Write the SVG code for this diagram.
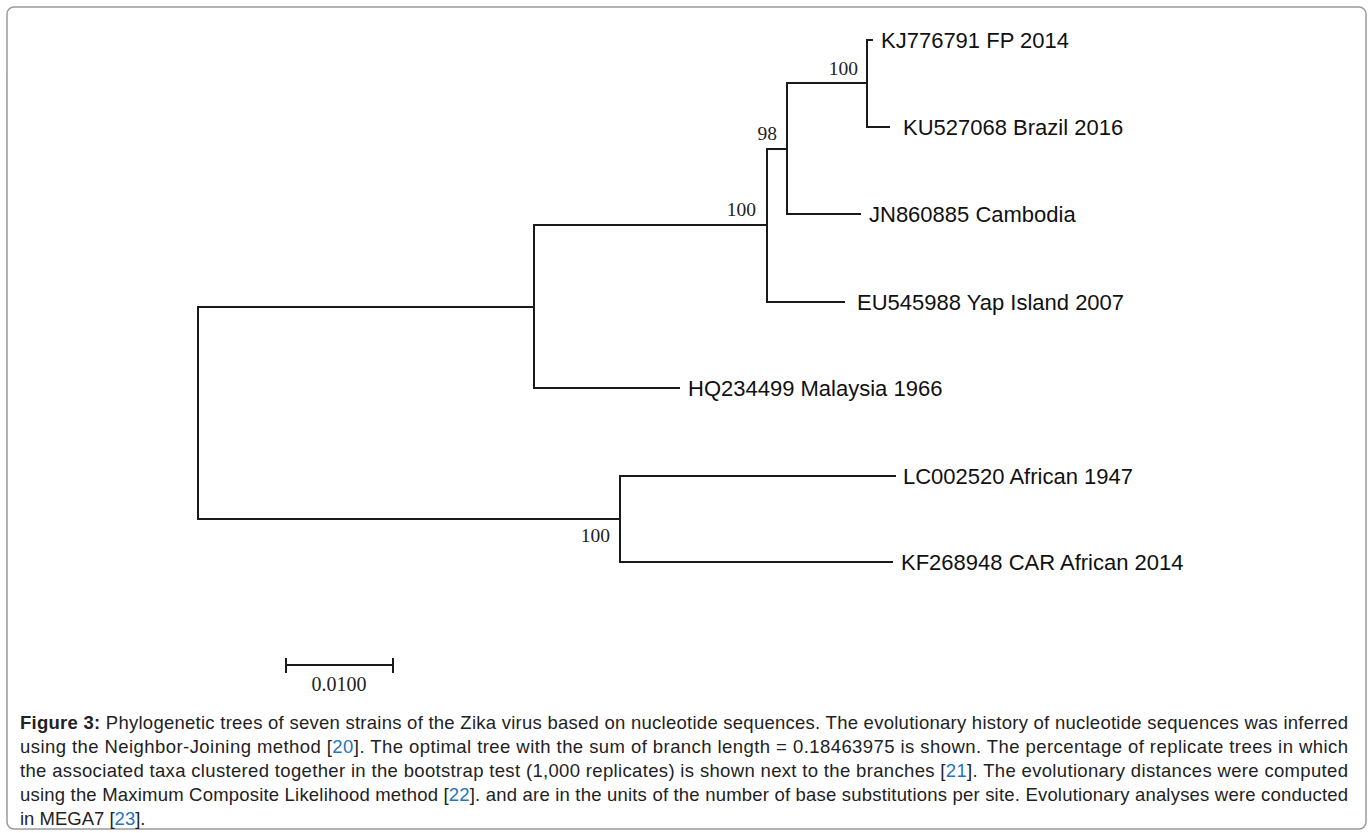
<svg xmlns="http://www.w3.org/2000/svg" width="1370" height="833" viewBox="0 0 1370 833">
<style>
.br{stroke:#1a1a1a;stroke-width:2;fill:none;stroke-linecap:square}
.lab{font-family:"Liberation Sans",Arial,sans-serif;font-size:22px;fill:#111}
.bs{font-family:"Liberation Serif","Times New Roman",serif;font-size:19.5px;fill:#222;text-anchor:end}
.cap{font-family:"Liberation Sans",Arial,sans-serif;font-size:18.5px;fill:#222}
.ref{fill:#1f74c4}
</style>
<rect x="7" y="7" width="1359" height="822" rx="7" fill="#fff" stroke="#9a9a9a" stroke-width="1.5"/>
<g id="connectors">
<path class="br" d="M198,307 V519"/>
<path class="br" d="M198,307 H534"/>
<path class="br" d="M198,519 H620"/>
<path class="br" d="M534,225 V388"/>
<path class="br" d="M534,225 H767"/>
<path class="br" d="M534,388 H679"/>
<path class="br" d="M767,149 V302"/>
<path class="br" d="M767,149 H787"/>
<path class="br" d="M767,302 H844"/>
<path class="br" d="M787,83 V214"/>
<path class="br" d="M787,83 H867"/>
<path class="br" d="M787,214 H860"/>
<path class="br" d="M867,40 V127"/>
<path class="br" d="M867,40 H872"/>
<path class="br" d="M867,127 H889"/>
<path class="br" d="M620,476 V562"/>
<path class="br" d="M620,476 H895"/>
<path class="br" d="M620,562 H892"/>
</g>
<g id="leaf-KJ776791"><text class="lab" x="881" y="48">KJ776791 FP 2014</text></g>
<g id="leaf-KU527068"><text class="lab" x="903" y="135">KU527068 Brazil 2016</text></g>
<g id="leaf-JN860885"><text class="lab" x="869" y="222">JN860885 Cambodia</text></g>
<g id="leaf-EU545988"><text class="lab" x="857" y="310">EU545988 Yap Island 2007</text></g>
<g id="leaf-HQ234499"><text class="lab" x="688" y="396">HQ234499 Malaysia 1966</text></g>
<g id="leaf-LC002520"><text class="lab" x="903" y="484">LC002520 African 1947</text></g>
<g id="leaf-KF268948"><text class="lab" x="901" y="570">KF268948 CAR African 2014</text></g>
<g id="bootstrap">
<text class="bs" x="858" y="75">100</text>
<text class="bs" x="777" y="140">98</text>
<text class="bs" x="756" y="216">100</text>
<text class="bs" x="610" y="542">100</text>
</g>
<g id="scale-bar">
<path class="br" d="M286,665 H393 M286,659 V672 M393,659 V672" stroke-linecap="butt"/>
<text x="339" y="691" text-anchor="middle" style="font-family:'Liberation Serif','Times New Roman',serif;font-size:20px;fill:#222">0.0100</text>
</g>
<g id="caption" class="cap">
<text x="20" y="729" textLength="1328" lengthAdjust="spacing"><tspan font-weight="bold">Figure 3:</tspan> Phylogenetic trees of seven strains of the Zika virus based on nucleotide sequences. The evolutionary history of nucleotide sequences was inferred</text>
<text x="20" y="753" textLength="1328" lengthAdjust="spacing">using the Neighbor-Joining method [<tspan class="ref">20</tspan>]. The optimal tree with the sum of branch length = 0.18463975 is shown. The percentage of replicate trees in which</text>
<text x="20" y="777" textLength="1328" lengthAdjust="spacing">the associated taxa clustered together in the bootstrap test (1,000 replicates) is shown next to the branches [<tspan class="ref">21</tspan>]. The evolutionary distances were computed</text>
<text x="20" y="801" textLength="1328" lengthAdjust="spacing">using the Maximum Composite Likelihood method [<tspan class="ref">22</tspan>]. and are in the units of the number of base substitutions per site. Evolutionary analyses were conducted</text>
<text x="20" y="825">in MEGA7 [<tspan class="ref">23</tspan>].</text>
</g>
</svg>
